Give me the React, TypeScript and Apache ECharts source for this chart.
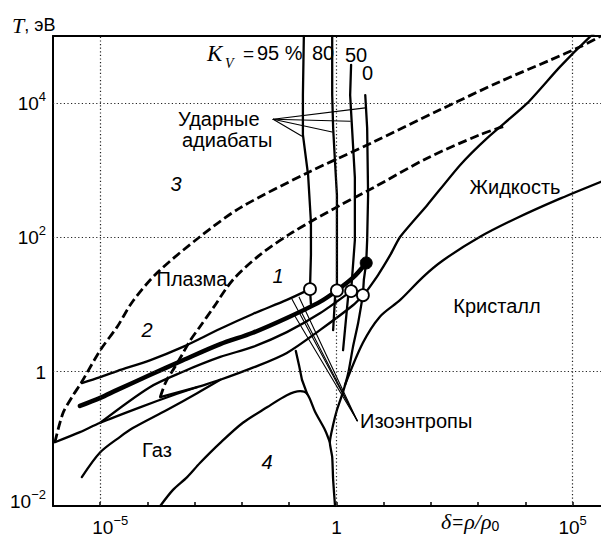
import React, { useEffect, useRef } from 'react';
import * as echarts from 'echarts';

type P = [number, number];

const SANS = '"Liberation Sans", Arial, Helvetica, sans-serif';
const SERIF = '"Liberation Serif", "Times New Roman", serif';

// axes in decimal exponents: lg(delta), lg(T)
const xRange = [-6, 5.6];
const yRange = [-2, 5];
const xLabelExps = [-5, 0, 5];
const yLabelExps = [-2, 0, 2, 4];
const xGridExps = [-5, 0, 5];
const yGridExps = [0, 2, 4];

// dashed boundaries
const plasmaOuter: P[] = [[-5.96, -1.05], [-5.79, -0.62], [-5.6, -0.38], [-5.39, -0.15], [-5.0, 0.32], [-4.64, 0.67], [-4.31, 1.05], [-3.8, 1.47], [-2.89, 2.01], [-2.04, 2.44], [-0.62, 2.96], [0.78, 3.42], [2.19, 3.9], [3.46, 4.32], [4.52, 4.64], [5.16, 4.84], [5.6, 5.0]];
const plasmaInner: P[] = [[-3.73, -0.38], [-3.61, -0.15], [-3.42, 0.07], [-3.27, 0.25], [-3.1, 0.46], [-2.89, 0.67], [-2.61, 0.95], [-2.19, 1.37], [-1.62, 1.74], [-0.92, 2.08], [0.08, 2.48], [0.78, 2.74], [1.92, 3.18], [3.04, 3.53], [3.53, 3.65]];

// shock adiabats
const shockK95: P[] = [[-0.69, 5.0], [-0.71, 4.12], [-0.71, 3.53], [-0.6, 2.93], [-0.54, 2.23], [-0.54, 1.74], [-0.56, 1.23], [-0.54, 1.01]];
const shockK80: P[] = [[-0.09, 5.0], [-0.09, 4.12], [-0.07, 3.63], [-0.03, 3.12], [0.01, 2.63], [0.01, 1.74], [0.01, 1.21], [-0.03, 1.11], [-0.07, 0.62]];
const shockK50: P[] = [[0.31, 4.57], [0.29, 4.12], [0.33, 3.63], [0.39, 2.89], [0.39, 1.96], [0.31, 1.2], [0.25, 1.14], [0.14, 0.32]];
const shockK0: P[] = [[0.61, 4.12], [0.65, 3.63], [0.67, 2.63], [0.65, 1.96], [0.63, 1.62], [0.58, 1.37], [0.56, 1.14]];

// phase boundaries
const binodalRight: P[] = [[0.56, 1.14], [0.46, 0.73], [0.35, 0.37], [0.25, -0.02], [0.14, -0.3], [0.01, -0.57], [-0.07, -0.79], [-0.14, -1.05], [-0.09, -1.27], [-0.07, -1.61], [-0.03, -2.0]];
const meltingLine: P[] = [[0.18, -0.2], [0.56, 0.43], [0.92, 0.82], [1.35, 1.07], [1.83, 1.41], [2.26, 1.66], [3.04, 2.01], [3.82, 2.29], [4.67, 2.56], [5.6, 2.83]];
const liquidLine: P[] = [[0.61, 1.17], [0.88, 1.44], [1.14, 1.74], [1.35, 2.01], [1.92, 2.48], [2.62, 3.08], [3.19, 3.48], [4.04, 4.0], [4.73, 4.54], [5.37, 4.99], [5.6, 5.12]];
const gasDome: P[] = [[-3.73, -2.0], [-3.46, -1.76], [-3.16, -1.57], [-2.89, -1.36], [-2.46, -1.06], [-1.98, -0.76], [-1.47, -0.53], [-1.05, -0.35], [-0.77, -0.29], [-0.62, -0.33], [-0.45, -0.6], [-0.24, -0.87], [-0.14, -1.05]];
const spinodal: P[] = [[-0.86, 0.31], [-0.79, 0.09], [-0.73, -0.12], [-0.62, -0.33]];

// isentropes
const isentrope1: P[] = [[-5.39, -0.17], [-5.0, -0.08], [-4.64, 0.01], [-3.95, 0.17], [-3.25, 0.37], [-2.46, 0.64], [-1.77, 0.86], [-1.05, 1.07], [-0.56, 1.23]];
const isentropeCrit: P[] = [[-5.43, -0.51], [-5.0, -0.39], [-4.64, -0.27], [-3.95, -0.05], [-3.25, 0.17], [-2.46, 0.41], [-1.77, 0.58], [-1.05, 0.8], [-0.35, 1.04], [0.01, 1.21], [0.35, 1.4], [0.63, 1.62]];
const isentrope3: P[] = [[-5.0, -0.76], [-3.95, -0.23], [-3.25, 0.0], [-2.46, 0.22], [-1.77, 0.37], [-1.05, 0.59], [-0.35, 0.87], [0.31, 1.2]];
const isentrope4: P[] = [[-5.96, -1.05], [-5.43, -0.9], [-5.0, -0.76], [-4.16, -0.53], [-3.46, -0.35], [-2.95, -0.23], [-2.46, -0.12], [-1.77, 0.06], [-1.05, 0.28], [-0.35, 0.62], [0.35, 0.99], [0.56, 1.14]];
const isentrope5: P[] = [[-5.39, -1.57], [-5.0, -1.2], [-4.58, -0.97], [-4.31, -0.84], [-3.59, -0.57], [-2.95, -0.32], [-2.46, -0.12]];
const wedge: P[] = [[-3.73, -0.38], [-2.95, -0.23]];

// markers
const openCircles: P[] = [[-0.56, 1.23], [0.01, 1.21], [0.31, 1.2], [0.56, 1.14]];
const criticalPoint: P[] = [[0.63, 1.62]];

// leader lines
const shockLeaderFrom: P = [-1.34, 3.76];
const shockLeaderTo: P[] = [[0.61, 3.93], [0.29, 3.73], [-0.09, 3.57], [-0.71, 3.5]];
const isoLeaderFrom: P = [0.44, -0.73];
const isoLeaderTo: P[] = [[-0.94, 1.08], [-0.79, 1.11], [-0.88, 0.83], [-0.73, 0.87]];

const expLabel = (e: number, padStyle = 'b') =>
  e === 0 ? `{${padStyle}|1}` : `{${padStyle}|10}{s|${e < 0 ? '\u2212' + -e : e}}`;

const richBase = {
  b: { fontSize: 19, fontFamily: SANS, color: '#000', padding: [4, 0, 3, 0] },
  bl: { fontSize: 19, fontFamily: SANS, color: '#000', padding: [4, 0, 3, 20] },
  bb: { fontSize: 19, fontFamily: SANS, color: '#000', padding: [4, 0, 14, 0] },
  s: { fontSize: 13, fontFamily: SANS, color: '#000', verticalAlign: 'top' },
};

function curve(data: P[], width = 2.3, extra: any = {}) {
  return {
    type: 'line',
    data,
    showSymbol: false,
    symbol: 'none',
    silent: true,
    z: 3,
    lineStyle: { color: '#000', width, cap: 'round', join: 'round' },
    ...extra,
  };
}

function txt(text: string, x: number, y: number, o: any = {}) {
  return {
    type: 'text',
    x,
    y,
    z: 20,
    silent: true,
    style: {
      text,
      fill: '#000',
      fontSize: o.size || 20,
      fontFamily: o.family || SANS,
      fontStyle: o.italic ? 'italic' : 'normal',
      align: o.align || 'center',
      verticalAlign: 'middle',
      rich: o.rich,
    },
  };
}

export default function App() {
  const ref = useRef<HTMLDivElement>(null);
  useEffect(() => {
    if (!ref.current) return;
    const chart = echarts.init(ref.current, undefined, { renderer: 'svg' });
    const dashed = { lineStyle: { color: '#000', width: 2.8, type: [9, 4], cap: 'butt', join: 'round' } };
    const series: any[] = [
      {
        type: 'line',
        data: [[xGridExps[0], yGridExps[0]]],
        showSymbol: false,
        symbol: 'none',
        lineStyle: { color: '#fff', width: 0 },
        silent: true,
        z: 1,
        markLine: {
          silent: true,
          symbol: ['none', 'none'],
          label: { show: false },
          lineStyle: { color: '#222', width: 1.2, type: [1.2, 2.4], opacity: 1 },
          emphasis: { disabled: true },
          data: [
            ...xGridExps.map((v) => ({ xAxis: v })),
            ...yGridExps.map((v) => ({ yAxis: v })),
          ],
        },
      },
      curve(plasmaOuter, 2.8, { ...dashed, smooth: 0.3 }),
      curve(plasmaInner, 2.8, { ...dashed, smooth: 0.3 }),
      curve(shockK95),
      curve(shockK80),
      curve(shockK50),
      curve(shockK0),
      curve(binodalRight, 2.3, { smooth: 0.2 }),
      curve(meltingLine, 2.3, { smooth: 0.3 }),
      curve(liquidLine, 2.3, { smooth: 0.2 }),
      curve(gasDome, 2.3, { smooth: 0.3 }),
      curve(spinodal, 2.3),
      curve(isentrope1, 2.3, { smooth: 0.3 }),
      curve(isentropeCrit, 4.5, { smooth: 0.3 }),
      curve(isentrope3, 2.3, { smooth: 0.3 }),
      curve(isentrope4, 2.3, { smooth: 0.3 }),
      curve(isentrope5, 2.3, { smooth: 0.3 }),
      curve(wedge, 2.3),
      ...shockLeaderTo.map((p) => curve([shockLeaderFrom, p], 1.1)),
      ...isoLeaderTo.map((p) => curve([isoLeaderFrom, p], 1.1)),
      {
        type: 'scatter',
        data: openCircles,
        symbol: 'circle',
        symbolSize: 12,
        silent: true,
        z: 10,
        itemStyle: { color: '#fff', borderColor: '#000', borderWidth: 1.8, opacity: 1 },
      },
      {
        type: 'scatter',
        data: criticalPoint,
        symbol: 'circle',
        symbolSize: 12,
        silent: true,
        z: 10,
        itemStyle: { color: '#000', borderColor: '#000', borderWidth: 1, opacity: 1 },
      },
    ];

    const graphic: any[] = [
      txt('{t|T}{n|, эВ}', 12, 25, {
        align: 'left',
        rich: {
          t: { fontSize: 22, fontFamily: SERIF, fontStyle: 'italic', color: '#000' },
          n: { fontSize: 18, fontFamily: SANS, color: '#000' },
        },
      }),
      txt('K', 207, 53, { align: 'left', family: SERIF, italic: true, size: 23 }),
      txt('V', 225, 63, { align: 'left', family: SERIF, italic: true, size: 14 }),
      txt('=', 243, 53, { align: 'left', size: 19 }),
      txt('95 %', 257, 53, { align: 'left' }),
      txt('80', 312, 53, { align: 'left' }),
      txt('50', 345, 55, { align: 'left' }),
      txt('0', 362, 73, { align: 'left' }),
      txt('Ударные', 178, 119, { align: 'left' }),
      txt('адиабаты', 182, 140, { align: 'left' }),
      txt('3', 176, 184, { italic: true }),
      txt('Жидкость', 515, 187),
      txt('1', 278, 276, { italic: true }),
      txt('Плазма', 192, 279),
      txt('2', 147, 330, { italic: true }),
      txt('Кристалл', 497, 306),
      txt('Изоэнтропы', 360, 421, { align: 'left' }),
      txt('Газ', 157, 450),
      txt('4', 267, 462, { italic: true }),
      txt('{i|δ}{n|=}{i|ρ/ρ}{s|0}', 441, 521, {
        align: 'left',
        rich: {
          i: { fontSize: 22, fontFamily: SERIF, fontStyle: 'italic', color: '#000' },
          n: { fontSize: 19, fontFamily: SANS, color: '#000', padding: [0, 1, 0, 1] },
          s: { fontSize: 14, fontFamily: SANS, color: '#000', padding: [10, 0, 0, 0] },
        },
      }),
    ];

    chart.setOption({
      animation: false,
      backgroundColor: '#fff',
      grid: { left: 53, right: 0, top: 36, bottom: 33, containLabel: false, outerBoundsMode: 'none' },
      xAxis: [
        {
          type: 'value',
          min: xRange[0],
          max: xRange[1],
          interval: 1,
          axisLine: { show: true, onZero: false, lineStyle: { color: '#000', width: 2 } },
          axisTick: { show: true, inside: true, length: 4, lineStyle: { color: '#000', width: 1.5 } },
          splitLine: { show: false },
          axisLabel: {
            show: true,
            margin: 8,
            showMinLabel: true,
            showMaxLabel: false,
            formatter: (v: number) => {
              const e = Math.round(v);
              if (Math.abs(v - e) > 1e-6 || !xLabelExps.includes(e)) return '';
              return expLabel(e, e < 0 ? 'bl' : 'b');
            },
            rich: richBase,
          },
        },
        {
          type: 'value',
          position: 'top',
          min: xRange[0],
          max: xRange[1],
          axisLine: { show: true, onZero: false, lineStyle: { color: '#000', width: 2 } },
          axisTick: { show: false },
          axisLabel: { show: false },
          splitLine: { show: false },
        },
      ],
      yAxis: {
        type: 'value',
        min: yRange[0],
        max: yRange[1],
        interval: 1,
        axisLine: { show: true, onZero: false, lineStyle: { color: '#000', width: 2 } },
        axisTick: { show: false },
        splitLine: { show: false },
        axisLabel: {
          show: true,
          margin: 7,
          showMinLabel: true,
          showMaxLabel: false,
          formatter: (v: number) => {
            const e = Math.round(v);
            if (Math.abs(v - e) > 1e-6 || !yLabelExps.includes(e)) return '';
            return expLabel(e, e === yRange[0] ? 'bb' : 'b');
          },
          rich: richBase,
        },
      },
      series,
      graphic,
    });
    return () => chart.dispose();
  }, []);
  return (
    <div
      ref={ref}
      style={{ position: 'fixed', left: 0, top: 0, width: 601, height: 539, background: '#fff' }}
    />
  );
}
